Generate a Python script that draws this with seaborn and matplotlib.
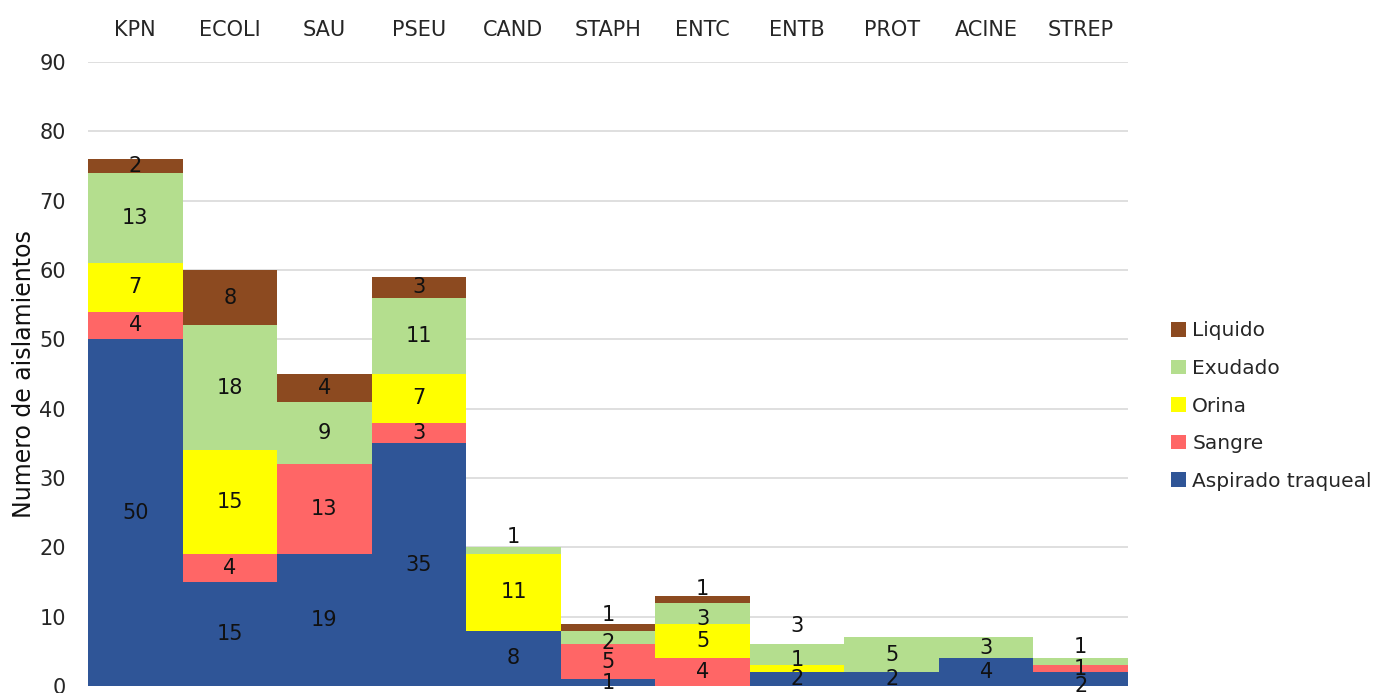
import matplotlib
matplotlib.use("Agg")
import matplotlib.pyplot as plt
from matplotlib.patches import Patch
import numpy as np
import pandas as pd
import seaborn as sns

# Isolates per organism, split by sample type (bottom to top of each stack)
organisms = ["KPN", "ECOLI", "SAU", "PSEU", "CAND", "STAPH", "ENTC", "ENTB", "PROT", "ACINE", "STREP"]
aspirado = [50, 15, 19, 35, 8, 1, 0, 2, 2, 4, 2]
sangre = [4, 4, 13, 3, 0, 5, 4, 0, 0, 0, 1]
orina = [7, 15, 0, 7, 11, 0, 5, 1, 0, 0, 0]
exudado = [13, 18, 9, 11, 1, 2, 3, 3, 5, 3, 1]
liquido = [2, 8, 4, 3, 0, 1, 1, 0, 0, 0, 0]

series_names = ["Aspirado traqueal", "Sangre", "Orina", "Exudado", "Liquido"]
series_values = [aspirado, sangre, orina, exudado, liquido]
colors = ["#2F5597", "#FF6666", "#FFFF00", "#B4DE8E", "#8C4A20"]

# Nudges (in y units) for value labels that sit off-centre on thin segments
label_nudge = {
    ("CAND", "Exudado"): 2.0,
    ("STAPH", "Liquido"): 1.7,
    ("STAPH", "Exudado"): -0.8,
    ("ENTC", "Liquido"): 1.5,
    ("ENTC", "Exudado"): -0.8,
    ("ENTB", "Exudado"): 4.1,
    ("ENTB", "Orina"): 1.2,
    ("STREP", "Exudado"): 2.1,
    ("STREP", "Aspirado traqueal"): -1.0,
}

df = pd.DataFrame({name: vals for name, vals in zip(series_names, series_values)}, index=organisms)
cum = df.cumsum(axis=1)

sns.set_theme(style="white")
plt.rcParams["font.family"] = ["DejaVu Sans"]
text_color = "#262626"

fig = plt.figure(figsize=(13.83, 6.93), dpi=100)
ax = fig.add_axes([88 / 1383, 1 - 686 / 693, (1128 - 88) / 1383, (686 - 62) / 693])

ax.set_ylim(0, 90)
ax.set_yticks(np.arange(0, 91, 10))
ax.yaxis.grid(True, color="#D9D9D9", linewidth=1.2)
ax.set_axisbelow(True)

# Stack by overdrawing cumulative totals, top layer first
for name, color in reversed(list(zip(series_names, colors))):
    plot_df = pd.DataFrame({"organism": organisms, "total": cum[name].values})
    sns.barplot(data=plot_df, x="organism", y="total", color=color, width=1.0,
                linewidth=0, saturation=1, ax=ax, zorder=2)

ax.set_xlim(-0.5, len(organisms) - 0.5)

# Value labels inside each segment
for i, org in enumerate(organisms):
    base = 0
    for name in series_names:
        v = df.loc[org, name]
        if v > 0:
            y = base + v / 2 + label_nudge.get((org, name), 0)
            ax.text(i, y, f"{v}", ha="center", va="center", fontsize=15, color="#111111", zorder=5)
        base += v

ax.xaxis.tick_top()
ax.tick_params(axis="x", length=0, pad=16, labelsize=15, labelcolor=text_color)
ax.tick_params(axis="y", length=0, pad=16, labelsize=15, labelcolor=text_color)
ax.set_xlabel("")
ax.set_ylabel("Numero de aislamientos", fontsize=17, color="#111111", labelpad=2)
for s in ax.spines.values():
    s.set_visible(False)

handles = [Patch(facecolor=c, edgecolor="none", label=n) for n, c in zip(series_names, colors)][::-1]
leg = fig.legend(handles=handles, loc="center left", bbox_to_anchor=(1163 / 1383, 1 - 406 / 693),
                 frameon=False, fontsize=14.5, handlelength=0.75, handleheight=0.75,
                 handletextpad=0.3, labelspacing=0.92, borderaxespad=0)
for t in leg.get_texts():
    t.set_color(text_color)

fig.savefig("out.png", dpi=100)
